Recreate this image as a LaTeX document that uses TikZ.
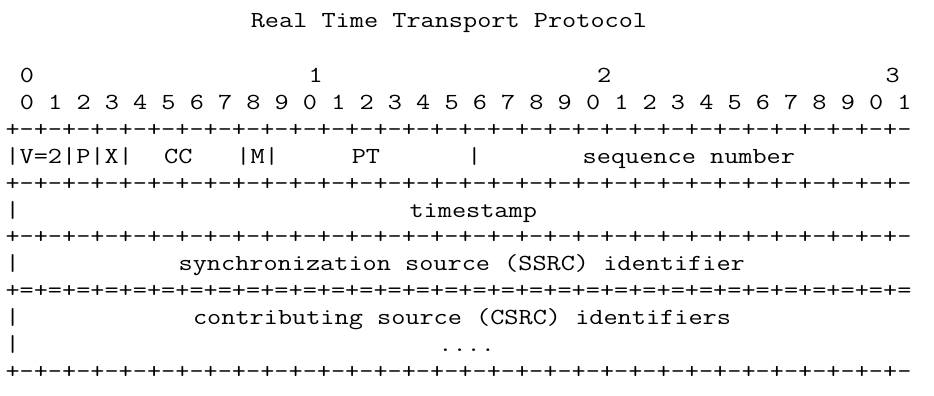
\documentclass[tikz,border=0pt]{standalone}
\usepackage{fontspec}
\usepackage{graphicx}
\def\bordline{+-+-+-+-+-+-+-+-+-+-+-+-+-+-+-+-+-+-+-+-+-+-+-+-+-+-+-+-+-+-+-+-}
\def\eqline{+=+=+=+=+=+=+=+=+=+=+=+=+=+=+=+=+=+=+=+=+=+=+=+=+=+=+=+=+=+=+=+=}
\tikzset{asc/.style={anchor=base west, inner sep=0pt, outer sep=0pt,
  font=\ttfamily\fontsize{23}{23}\selectfont, text=black}}
\newcommand\asl[4]{\node[asc] (#1) at ({5.5+#2*14.43},{82.5+(#3-2)*26.9}) {\scalebox{1.195}[1]{#4}};}
\begin{document}
\begin{tikzpicture}[x=1pt,y=-1pt]
\useasboundingbox (0,0) rectangle (934,396);
\fill[white] (0,0) rectangle (934,396);
\node[asc] (title) at ({5.5+17*14.43},27.5) {\scalebox{1.195}[1]{Real Time Transport Protocol}};
\asl{h0}{1}{2}{0}
\asl{h1}{21}{2}{1}
\asl{h2}{41}{2}{2}
\asl{h3}{61}{2}{3}
\asl{digits}{1}{3}{0 1 2 3 4 5 6 7 8 9 0 1 2 3 4 5 6 7 8 9 0 1 2 3 4 5 6 7 8 9 0 1}
\asl{b1}{0}{4}{\bordline}
\asl{vpx}{0}{5}{|V=2|P|X|}
\asl{cc}{11}{5}{CC}
\asl{m}{16}{5}{|M|}
\asl{pt}{24}{5}{PT}
\asl{bar5}{32}{5}{|}
\asl{seq}{40}{5}{sequence number}
\asl{b2}{0}{6}{\bordline}
\asl{bar7}{0}{7}{|}
\asl{ts}{28}{7}{timestamp}
\asl{b3}{0}{8}{\bordline}
\asl{bar9}{0}{9}{|}
\asl{ssrc}{12}{9}{synchronization source (SSRC) identifier}
\asl{b4}{0}{10}{\eqline}
\asl{bar11}{0}{11}{|}
\asl{csrc}{13}{11}{contributing source (CSRC) identifiers}
\asl{bar12}{0}{12}{|}
\asl{dots}{30}{12}{....}
\asl{b5}{0}{13}{\bordline}
\end{tikzpicture}
\end{document}
